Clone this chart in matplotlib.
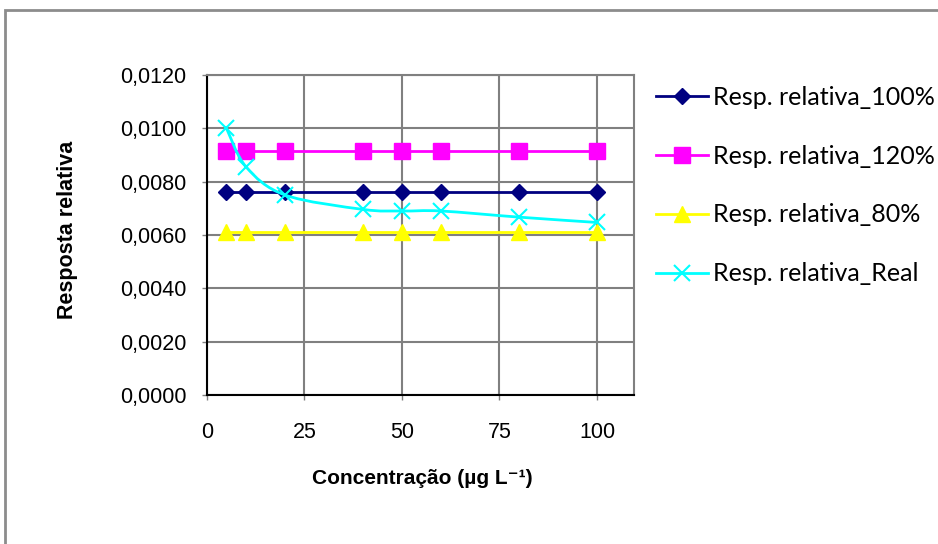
import matplotlib
matplotlib.use("Agg")
import matplotlib.pyplot as plt
from matplotlib.path import Path
from matplotlib.patches import PathPatch, Rectangle
from matplotlib.lines import Line2D
from matplotlib.ticker import FuncFormatter, MultipleLocator

plt.rcParams['font.family'] = ['Liberation Sans', 'DejaVu Sans']

conc = [5, 10, 20, 40, 50, 60, 80, 100]
resp_100 = [0.00762, 0.00762, 0.00762, 0.00762, 0.00762, 0.00762, 0.00762, 0.00762]
resp_120 = [0.00915, 0.00915, 0.00915, 0.00915, 0.00915, 0.00915, 0.00915, 0.00915]
resp_80 = [0.0061, 0.0061, 0.0061, 0.0061, 0.0061, 0.0061, 0.0061, 0.0061]
resp_real = [0.0100, 0.00856, 0.0075, 0.00696, 0.0069, 0.0069, 0.00667, 0.00647]

labels = ["Resp. relativa_100%", "Resp. relativa_120%",
          "Resp. relativa_80%", "Resp. relativa_Real"]


def smooth_path(xs, ys):
    # Bezier smoothing through the points (like the spreadsheet "smoothed line")
    pts = list(zip(xs, ys))
    verts = [pts[0]]
    codes = [Path.MOVETO]
    n = len(pts)
    for i in range(n - 1):
        p0 = pts[i - 1] if i > 0 else pts[i]
        p1 = pts[i]
        p2 = pts[i + 1]
        p3 = pts[i + 2] if i + 2 < n else pts[i + 1]
        c1 = (p1[0] + (p2[0] - p0[0]) / 6, p1[1] + (p2[1] - p0[1]) / 6)
        c2 = (p2[0] - (p3[0] - p1[0]) / 6, p2[1] - (p3[1] - p1[1]) / 6)
        verts += [c1, c2, p2]
        codes += [Path.CURVE4] * 3
    return Path(verts, codes)


fig = plt.figure(figsize=(9.38, 5.44), dpi=100)
ax = fig.add_axes([207 / 938, 149 / 544, 427 / 938, 320 / 544])

ax.plot(conc, resp_100, color='#000080', lw=2, marker='D', ms=8, zorder=3)
ax.plot(conc, resp_120, color='#FF00FF', lw=2, marker='s', ms=11, zorder=3)
ax.plot(conc, resp_80, color='#FFFF00', lw=2, marker='^', ms=11, zorder=3)
ax.add_patch(PathPatch(smooth_path(conc, resp_real), fill=False,
                       edgecolor='#00FFFF', lw=2, zorder=4))
ax.plot(conc, resp_real, color='#00FFFF', lw=0, marker='x', ms=11, mew=1.5, zorder=4)

ax.set_xlim(0, 109.5)
ax.set_ylim(0, 0.012)
ax.xaxis.set_major_locator(MultipleLocator(25))
ax.yaxis.set_major_locator(MultipleLocator(0.002))
ax.yaxis.set_major_formatter(FuncFormatter(lambda v, p: f"{v:.4f}".replace('.', ',')))
ax.grid(True, color='#808080', lw=1.5, zorder=0)
ax.set_axisbelow(True)
for s in ['top', 'right']:
    ax.spines[s].set_color('#808080')
    ax.spines[s].set_linewidth(1.5)
for s in ['left', 'bottom']:
    ax.spines[s].set_color('black')
    ax.spines[s].set_linewidth(1.5)
ax.tick_params(axis='both', direction='out', length=3.6, width=1, color='#808080',
               labelsize=15.5)
ax.tick_params(axis='y', pad=11)
ax.tick_params(axis='x', pad=16)

fig.text(422 / 938, 1 - 478 / 544, 'Concentração (µg L⁻¹)', ha='center', va='center',
         fontsize=15, fontweight='bold')
fig.text(67 / 938, 1 - 230 / 544, 'Resposta relativa', ha='center', va='center',
         rotation=90, fontsize=15.5, fontweight='bold')

handles = [
    Line2D([], [], color='#000080', lw=2, marker='D', ms=8),
    Line2D([], [], color='#FF00FF', lw=2, marker='s', ms=11),
    Line2D([], [], color='#FFFF00', lw=2, marker='^', ms=11),
    Line2D([], [], color='#00FFFF', lw=2, marker='x', ms=11, mew=1.5),
]
fig.legend(handles, labels, loc='upper left', bbox_to_anchor=(656 / 938, 1 - 86 / 544),
           frameon=False, handlelength=2.08, handletextpad=0.2,
           labelspacing=1.43, borderaxespad=0, borderpad=0,
           prop={'family': ['Lato', 'DejaVu Sans'], 'size': 18})

fig.add_artist(Rectangle((5 / 938, -0.1), 1.2, (1 - 10.5 / 544) + 0.1,
                         transform=fig.transFigure, fill=False,
                         edgecolor='#8c8c8c', lw=2))

fig.savefig('out.png', dpi=100)
